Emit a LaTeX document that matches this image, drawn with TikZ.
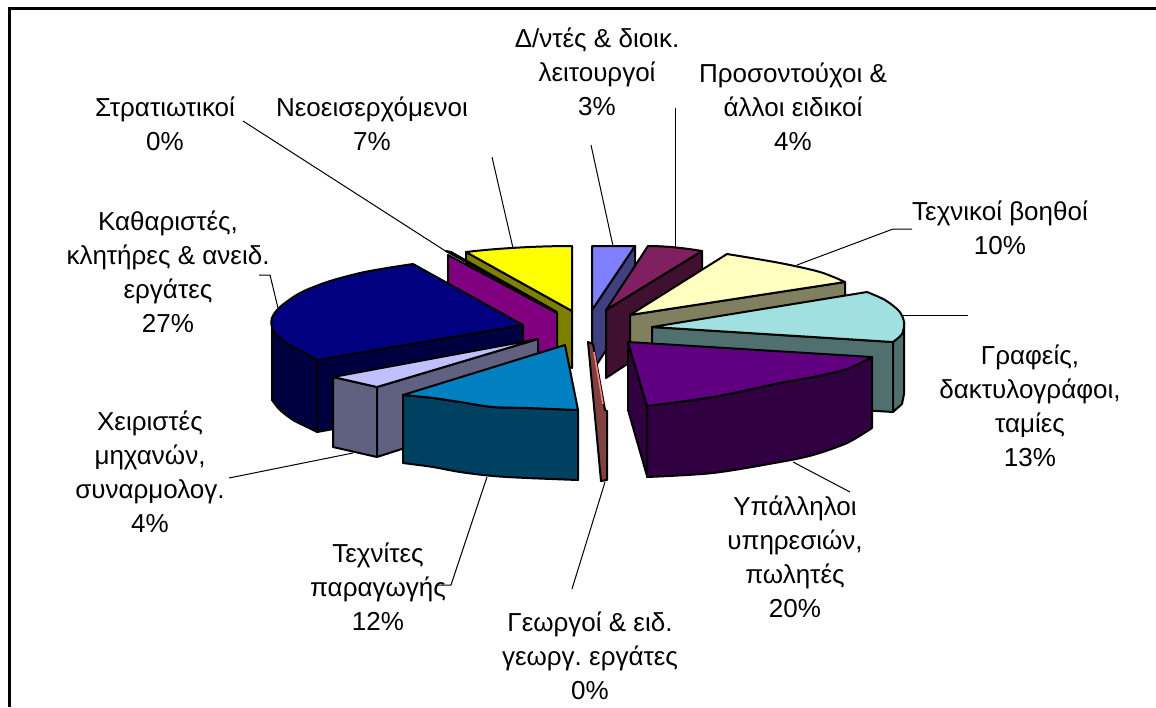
\documentclass[tikz,border=0pt]{standalone}
\usepackage{fontspec}
\setmainfont{Liberation Sans}
\frenchspacing
\definecolor{dntTop}{HTML}{8080FF}\definecolor{dntSide}{HTML}{404080}
\definecolor{prosTop}{HTML}{802060}\definecolor{prosSide}{HTML}{401030}
\definecolor{tbTop}{HTML}{FFFFC0}\definecolor{tbSide}{HTML}{808060}
\definecolor{grTop}{HTML}{A0E0E0}\definecolor{grSide}{HTML}{507070}
\definecolor{ypTop}{HTML}{600080}\definecolor{ypSide}{HTML}{300040}
\definecolor{geTop}{HTML}{FF8080}\definecolor{geSide}{HTML}{804040}
\definecolor{teTop}{HTML}{0080C0}\definecolor{teSide}{HTML}{004060}
\definecolor{xeTop}{HTML}{C0C0FF}\definecolor{xeSide}{HTML}{606080}
\definecolor{kaTop}{HTML}{000080}\definecolor{kaSide}{HTML}{000040}
\definecolor{strTop}{HTML}{FF00FF}\definecolor{strSide}{HTML}{800080}
\definecolor{neoTop}{HTML}{FFFF00}\definecolor{neoSide}{HTML}{808000}
\begin{document}
\begin{tikzpicture}[x=0.5pt,y=-0.5pt,
  face/.style={draw=black,line width=1pt,line join=round},
  lbl/.style={align=center,font=\fontsize{13}{17}\selectfont,inner sep=0pt},
  leader/.style={draw=black,line width=0.5pt}]
\useasboundingbox (0,0) rectangle (1156,707);
% frame
\draw[line width=1.5pt] (9,707) -- (9,8) -- (1156,8);

% labels
\node[lbl] (strLbl) at (165,124) {Στρατιωτικοί\\0\%};
\node[lbl] (neoLbl) at (372,124) {Νεοεισερχόμενοι\\7\%};
\node[lbl] (dntLbl) at (597,72) {Δ/ντές \& διοικ.\\λειτουργοί\\3\%};
\node[lbl] (prosLbl) at (793,107) {Προσοντούχοι \&\\άλλοι ειδικοί\\4\%};
\node[lbl] (tbLbl) at (1000,228) {Τεχνικοί βοηθοί\\10\%};
\node[lbl] (kaLbl) at (168,272) {Καθαριστές,\\κλητήρες \& ανειδ.\\εργάτες\\27\%};
\node[lbl] (grLbl) at (1030,406) {Γραφείς,\\δακτυλογράφοι,\\ταμίες\\13\%};
\node[lbl] (ypLbl) at (795,557) {Υπάλληλοι\\υπηρεσιών,\\πωλητές\\20\%};
\node[lbl] (geLbl) at (590,656) {Γεωργοί \& ειδ.\\γεωργ. εργάτες\\0\%};
\node[lbl] (teLbl) at (378,587) {Τεχνίτες\\παραγωγής\\12\%};
\node[lbl] (xeLbl) at (150,472) {Χειριστές\\μηχανών,\\συναρμολογ.\\4\%};

% leader lines
\coordinate (strA) at (243,121); \coordinate (strB) at (447,252);
\coordinate (neoA) at (492,157); \coordinate (neoB) at (513,248);
\coordinate (dntA) at (591,145); \coordinate (dntB) at (613,246);
\coordinate (prosA) at (675,108); \coordinate (prosB) at (675,248);
\coordinate (tbA) at (912,229); \coordinate (tbK) at (893,229); \coordinate (tbB) at (797,265);
\coordinate (grA) at (968,315); \coordinate (grB) at (903,315);
\coordinate (ypA) at (850,492); \coordinate (ypB) at (793,462);
\coordinate (geA) at (572,589); \coordinate (geB) at (605,482);
\coordinate (teA) at (438,585); \coordinate (teK) at (451,585); \coordinate (teB) at (487,477);
\coordinate (xeA) at (229,478); \coordinate (xeB) at (353,453);
\coordinate (kaA) at (259,275); \coordinate (kaK) at (270,275); \coordinate (kaB) at (278,308);
\draw[leader] (strA) -- (strB);
\draw[leader] (neoA) -- (neoB);
\draw[leader] (dntA) -- (dntB);
\draw[leader] (prosA) -- (prosB);
\draw[leader] (tbA) -- (tbK) -- (tbB);
\draw[leader] (grA) -- (grB);
\draw[leader] (ypA) -- (ypB);
\draw[leader] (geA) -- (geB);
\draw[leader] (teA) -- (teK) -- (teB);
\draw[leader] (xeA) -- (xeB);
\draw[leader] (kaA) -- (kaK) -- (kaB);

% Neoeiserchomenoi 7%
\filldraw[face,fill=neoSide] (466,252) -- (572,311) -- (572,368) -- (466,310) -- cycle;
\filldraw[face,fill=neoTop] (572,311) -- (466,252) .. controls (500,248) and (540,246) .. (572,246) -- cycle;
% Stratiotikoi 0%
\filldraw[face,fill=strSide] (448,255) -- (557,313) -- (557,373) -- (448,315) -- cycle;
\filldraw[face,fill=strTop] (446,251) -- (451,252) -- (557,312) -- cycle;
% Dntes 3%
\filldraw[face,fill=dntSide] (592,310) -- (635,246) -- (635,305) -- (592,372) -- cycle;
\filldraw[face,fill=dntTop] (592,310) -- (592,246) -- (635,246) -- cycle;
% Prosontouchoi 4%
\filldraw[face,fill=prosSide] (606,310) -- (702,251) -- (702,315) -- (606,378) -- cycle;
\filldraw[face,fill=prosTop] (606,310) -- (648,246) .. controls (666,246) and (684,248) .. (702,251) -- cycle;
% Technikoi voithoi 10%
\filldraw[face,fill=tbSide] (630,315) -- (845,282) -- (845,350) -- (630,383) -- cycle;
\filldraw[face,fill=tbTop] (630,315) -- plot[smooth] coordinates {(727,254) (780,263) (820,272) (845,282)} -- cycle;
% Grafeis 13%
\filldraw[face,fill=grSide] (652,327) -- (893,342) -- (893,412) -- (652,397) -- cycle;
\filldraw[face,fill=grSide] (893,342) -- (902,334) -- (904,322) -- (904,394) -- (902,404) -- (893,412) -- cycle;
\filldraw[face,fill=grTop] (652,327) -- plot[smooth] coordinates {(867,292) (885,300) (899,311) (904,322) (902,334) (893,342)} -- cycle;
% Katharistes 27%
\filldraw[face,fill=kaSide] plot[smooth] coordinates {(272,318) (273,330) (285,342) (303,352) (317,360)} -- (317,432)
  -- plot[smooth] coordinates {(317,432) (307,427) (293,420) (280,410) (272,400)} -- cycle;
\filldraw[face,fill=kaSide] (317,360) -- (523,325) -- (523,395) -- (317,432) -- cycle;
\filldraw[face,fill=kaTop] (523,325) -- plot[smooth] coordinates {(413,264) (387,268) (360,273) (327,282) (300,293)
  (280,307) (272,318) (273,330) (285,342) (303,352) (317,360)} -- cycle;
% Cheiristes 4%
\filldraw[face,fill=xeSide] (333,377) -- (377,387) -- (377,457) -- (333,447) -- cycle;
\filldraw[face,fill=xeSide] (377,387) -- (538,339) -- (538,405) -- (377,457) -- cycle;
\filldraw[face,fill=xeTop] (538,339) -- (333,377) -- (377,387) -- cycle;
% Technites 12%
\filldraw[face,fill=teSide] plot[smooth] coordinates {(403,395) (433,398) (460,402) (493,407) (527,408) (578,410)} -- (578,480)
  -- plot[smooth] coordinates {(578,480) (527,478) (493,476) (460,472) (433,467) (403,463)} -- cycle;
\filldraw[face,fill=teTop] (565,345) -- plot[smooth] coordinates {(403,395) (433,398) (460,402) (493,407) (527,408) (578,410)} -- cycle;
% Georgoi 0%
\filldraw[face,fill=geSide] (588,342) -- (593,344) -- (605,410) -- (607,411) -- (607,480) -- (601,481) -- cycle;
\draw[geTop,line width=0.8pt] (594,352) -- (603,404);
% Ypalliloi 20%
\filldraw[face,fill=ypSide] (628,342) -- (647,407) -- (647,476) -- (628,410) -- cycle;
\filldraw[face,fill=ypSide] plot[smooth] coordinates {(647,406) (713,397) (780,383) (813,377) (847,369) (872,357)} -- (872,428)
  -- plot[smooth] coordinates {(872,428) (847,443) (813,455) (780,462) (713,473) (647,477)} -- cycle;
\filldraw[face,fill=ypTop] (628,342) -- (872,357) -- plot[smooth] coordinates {(872,357) (847,369) (813,377) (780,383) (713,397) (647,406)} -- cycle;
\end{tikzpicture}
\end{document}
